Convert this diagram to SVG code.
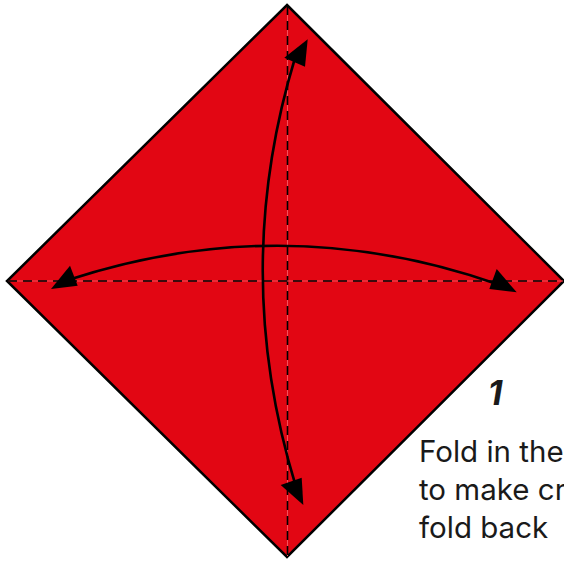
<svg xmlns="http://www.w3.org/2000/svg" width="564" height="561" viewBox="0 0 564 561">
<style>
.paper{fill:#e20613;stroke:#000;stroke-width:2.5;stroke-linejoin:miter}
.crease{stroke:#f4505c;stroke-width:1;fill:none}
.dash{stroke:#000;stroke-width:1.6;stroke-dasharray:9 6;fill:none}
.curve{stroke:#000;stroke-width:2.6;fill:none}
.head{fill:#000}
.num{font-family:Inter,"Liberation Sans",sans-serif;font-weight:700;font-style:italic;font-size:34px;fill:#1a1a1a}
.lbl{font-family:Inter,"Liberation Sans",sans-serif;font-size:29.5px;fill:#1a1a1a}
</style>
<rect width="564" height="561" fill="#fff"/>
<g id="paper">
<polygon class="paper" points="287,5 564,281 287,557 7,281"/>
</g>
<g id="creases">
<line class="crease" x1="287.5" y1="6" x2="287.5" y2="556"/>
<line class="dash" x1="287.5" y1="6" x2="287.5" y2="556"/>
<line class="crease" x1="8" y1="281" x2="563" y2="281"/>
<line class="dash" x1="8" y1="281" x2="563" y2="281"/>
</g>
<g id="connectors">
<path class="curve" d="M68,280 Q285,209 500,285"/>
<path class="curve" d="M295,58 Q230,272 296,487"/>
<polygon class="head" points="51,289 70,265.7 77.7,285.7"/>
<polygon class="head" points="516.7,292.3 496.7,269 489.3,289"/>
<polygon class="head" points="307.7,39.3 284.3,57.7 305,66.7"/>
<polygon class="head" points="303.3,505 280.7,485 301.7,477.7"/>
</g>
<g id="caption">
<text class="num" x="495" y="405" text-anchor="middle">1</text>
<text class="lbl" x="419" y="462">Fold in the</text>
<text class="lbl" x="419" y="500">to make cr</text>
<text class="lbl" x="419" y="538">fold back</text>
</g>
</svg>
